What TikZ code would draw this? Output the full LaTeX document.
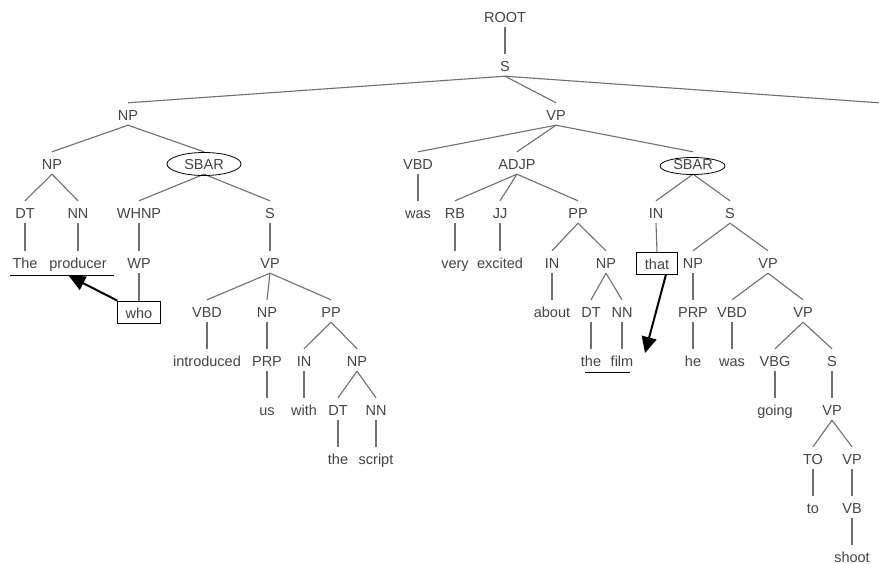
\documentclass[tikz,border=0pt]{standalone}
\usepackage{fontspec}
\setmainfont{Liberation Sans}
\usepackage{tikz}
\usetikzlibrary{arrows.meta}
\definecolor{labelgray}{RGB}{68,68,68}
\definecolor{edgegray}{RGB}{112,112,112}

\begin{document}
\begin{tikzpicture}[x=1pt,y=-1pt,
        tag/.style={font=\fontsize{14.5}{16}\selectfont, text=labelgray, text height=13.5pt, text depth=0.5pt, inner xsep=2pt, inner ysep=4pt},
        boxed/.style={tag, draw=black, line width=0.9pt, inner xsep=8pt},
        branch/.style={draw=edgegray, line width=1.1pt},
        ring/.style={draw=black, line width=0.8pt},
        trace/.style={draw=black, line width=2pt, -{Triangle[length=16pt,width=15pt]}},
        underl/.style={draw=black, line width=1pt}]
                \useasboundingbox[fill=white] (0,0) rectangle (879,564);

                \node[tag] (root) at (505,16) {ROOT};
                \node[tag] (s) at (505,65) {S};
                \node[tag] (np) at (128,114) {NP};
                \node[tag] (vp) at (556,114) {VP};
                \coordinate (punct) at (882,103);

                \node[tag] (npA) at (52,163) {NP};
                \node[tag] (sbarA) at (204,163) {SBAR};
                \node[tag] (vbdA) at (418,163) {VBD};
                \node[tag] (adjp) at (517,163) {ADJP};
                \node[tag] (sbarB) at (693,163) {SBAR};

                \node[tag] (dtA) at (25,212) {DT};
                \node[tag] (nnA) at (78,212) {NN};
                \node[tag] (whnp) at (139,212) {WHNP};
                \node[tag] (sA) at (270,212) {S};
                \node[tag] (wasA) at (418,212) {was};
                \node[tag] (rb) at (455,212) {RB};
                \node[tag] (jj) at (500,212) {JJ};
                \node[tag] (ppA) at (578,212) {PP};
                \node[tag] (inA) at (656,212) {IN};
                \node[tag] (sB) at (730,212) {S};

                \node[tag] (the) at (25,262) {The};
                \node[tag] (producer) at (78,262) {producer};
                \node[tag] (wp) at (139,262) {WP};
                \node[tag] (vpA) at (270,262) {VP};
                \node[tag] (very) at (455,262) {very};
                \node[tag] (excited) at (500,262) {excited};
                \node[tag] (inB) at (552,262) {IN};
                \node[tag] (npB) at (606,262) {NP};
                \node[boxed] (that) at (657,263) {that};
                \node[tag] (npC) at (693,262) {NP};
                \node[tag] (vpB) at (768,262) {VP};

                \node[boxed] (who) at (139,312) {who};
                \node[tag] (vbdB) at (207,311) {VBD};
                \node[tag] (npD) at (267,311) {NP};
                \node[tag] (ppB) at (331,311) {PP};
                \node[tag] (about) at (552,311) {about};
                \node[tag] (dtB) at (591,311) {DT};
                \node[tag] (nnB) at (622,311) {NN};
                \node[tag] (prpA) at (693,311) {PRP};
                \node[tag] (vbdC) at (732,311) {VBD};
                \node[tag] (vpC) at (803,311) {VP};

                \node[tag] (introduced) at (207,360) {introduced};
                \node[tag] (prpB) at (267,360) {PRP};
                \node[tag] (inC) at (304,360) {IN};
                \node[tag] (npE) at (357,360) {NP};
                \node[tag] (theB) at (591,360) {the};
                \node[tag] (film) at (622,360) {film};
                \node[tag] (he) at (693,360) {he};
                \node[tag] (wasB) at (732,360) {was};
                \node[tag] (vbg) at (775,360) {VBG};
                \node[tag] (sC) at (832,360) {S};

                \node[tag] (us) at (267,409) {us};
                \node[tag] (with) at (304,409) {with};
                \node[tag] (dtC) at (338,409) {DT};
                \node[tag] (nnC) at (376,409) {NN};
                \node[tag] (going) at (775,409) {going};
                \node[tag] (vpD) at (832,409) {VP};

                \node[tag] (theC) at (338,458) {the};
                \node[tag] (script) at (376,458) {script};
                \node[tag] (to) at (813,458) {TO};
                \node[tag] (vpE) at (852,458) {VP};

                \node[tag] (toW) at (813,507) {to};
                \node[tag] (vb) at (852,507) {VB};
                \node[tag] (shoot) at (852,556) {shoot};

                \draw[branch] (root.south) -- (s.north);
                \draw[branch] (s.south) -- (np.north);
                \draw[branch] (s.south) -- (vp.north);
                \draw[branch] (s.south) -- (punct);
                \draw[branch] (np.south) -- (npA.north);
                \draw[branch] (np.south) -- (sbarA.north);
                \draw[branch] (npA.south) -- (dtA.north);
                \draw[branch] (npA.south) -- (nnA.north);
                \draw[branch] (dtA.south) -- (the.north);
                \draw[branch] (nnA.south) -- (producer.north);
                \draw[branch] (sbarA.south) -- (whnp.north);
                \draw[branch] (sbarA.south) -- (sA.north);
                \draw[branch] (whnp.south) -- (wp.north);
                \draw[branch] (wp.south) -- (who.north);
                \draw[branch] (sA.south) -- (vpA.north);
                \draw[branch] (vpA.south) -- (vbdB.north);
                \draw[branch] (vpA.south) -- (npD.north);
                \draw[branch] (vpA.south) -- (ppB.north);
                \draw[branch] (vbdB.south) -- (introduced.north);
                \draw[branch] (npD.south) -- (prpB.north);
                \draw[branch] (prpB.south) -- (us.north);
                \draw[branch] (ppB.south) -- (inC.north);
                \draw[branch] (ppB.south) -- (npE.north);
                \draw[branch] (inC.south) -- (with.north);
                \draw[branch] (npE.south) -- (dtC.north);
                \draw[branch] (npE.south) -- (nnC.north);
                \draw[branch] (dtC.south) -- (theC.north);
                \draw[branch] (nnC.south) -- (script.north);
                \draw[branch] (vp.south) -- (vbdA.north);
                \draw[branch] (vp.south) -- (adjp.north);
                \draw[branch] (vp.south) -- (sbarB.north);
                \draw[branch] (vbdA.south) -- (wasA.north);
                \draw[branch] (adjp.south) -- (rb.north);
                \draw[branch] (adjp.south) -- (jj.north);
                \draw[branch] (adjp.south) -- (ppA.north);
                \draw[branch] (rb.south) -- (very.north);
                \draw[branch] (jj.south) -- (excited.north);
                \draw[branch] (ppA.south) -- (inB.north);
                \draw[branch] (ppA.south) -- (npB.north);
                \draw[branch] (inB.south) -- (about.north);
                \draw[branch] (npB.south) -- (dtB.north);
                \draw[branch] (npB.south) -- (nnB.north);
                \draw[branch] (dtB.south) -- (theB.north);
                \draw[branch] (nnB.south) -- (film.north);
                \draw[branch] (sbarB.south) -- (inA.north);
                \draw[branch] (sbarB.south) -- (sB.north);
                \draw[branch] (inA.south) -- (that.north);
                \draw[branch] (sB.south) -- (npC.north);
                \draw[branch] (sB.south) -- (vpB.north);
                \draw[branch] (npC.south) -- (prpA.north);
                \draw[branch] (prpA.south) -- (he.north);
                \draw[branch] (vpB.south) -- (vbdC.north);
                \draw[branch] (vpB.south) -- (vpC.north);
                \draw[branch] (vbdC.south) -- (wasB.north);
                \draw[branch] (vpC.south) -- (vbg.north);
                \draw[branch] (vpC.south) -- (sC.north);
                \draw[branch] (vbg.south) -- (going.north);
                \draw[branch] (sC.south) -- (vpD.north);
                \draw[branch] (vpD.south) -- (to.north);
                \draw[branch] (vpD.south) -- (vpE.north);
                \draw[branch] (to.south) -- (toW.north);
                \draw[branch] (vpE.south) -- (vb.north);
                \draw[branch] (vb.south) -- (shoot.north);

                \draw[ring] (204,164) ellipse [x radius=37, y radius=11.5];
                \draw[ring] (692.5,166) ellipse [x radius=32.5, y radius=8.5];

                \draw[underl] ([yshift=-2pt]the.south west) -- ([xshift=5pt,yshift=-2pt]producer.south east);
                \draw[underl] ([xshift=6pt,yshift=-1pt]theB.south west) -- ([xshift=-5pt,yshift=-1pt]film.south east);

                \coordinate (whoTip) at (69,276);
                \coordinate (thatTip) at (645,353);
                \draw[trace] (who.north west) -- (whoTip);
                \draw[trace] ([xshift=9pt]that.south) -- (thatTip);
        \end{tikzpicture}
\end{document}
